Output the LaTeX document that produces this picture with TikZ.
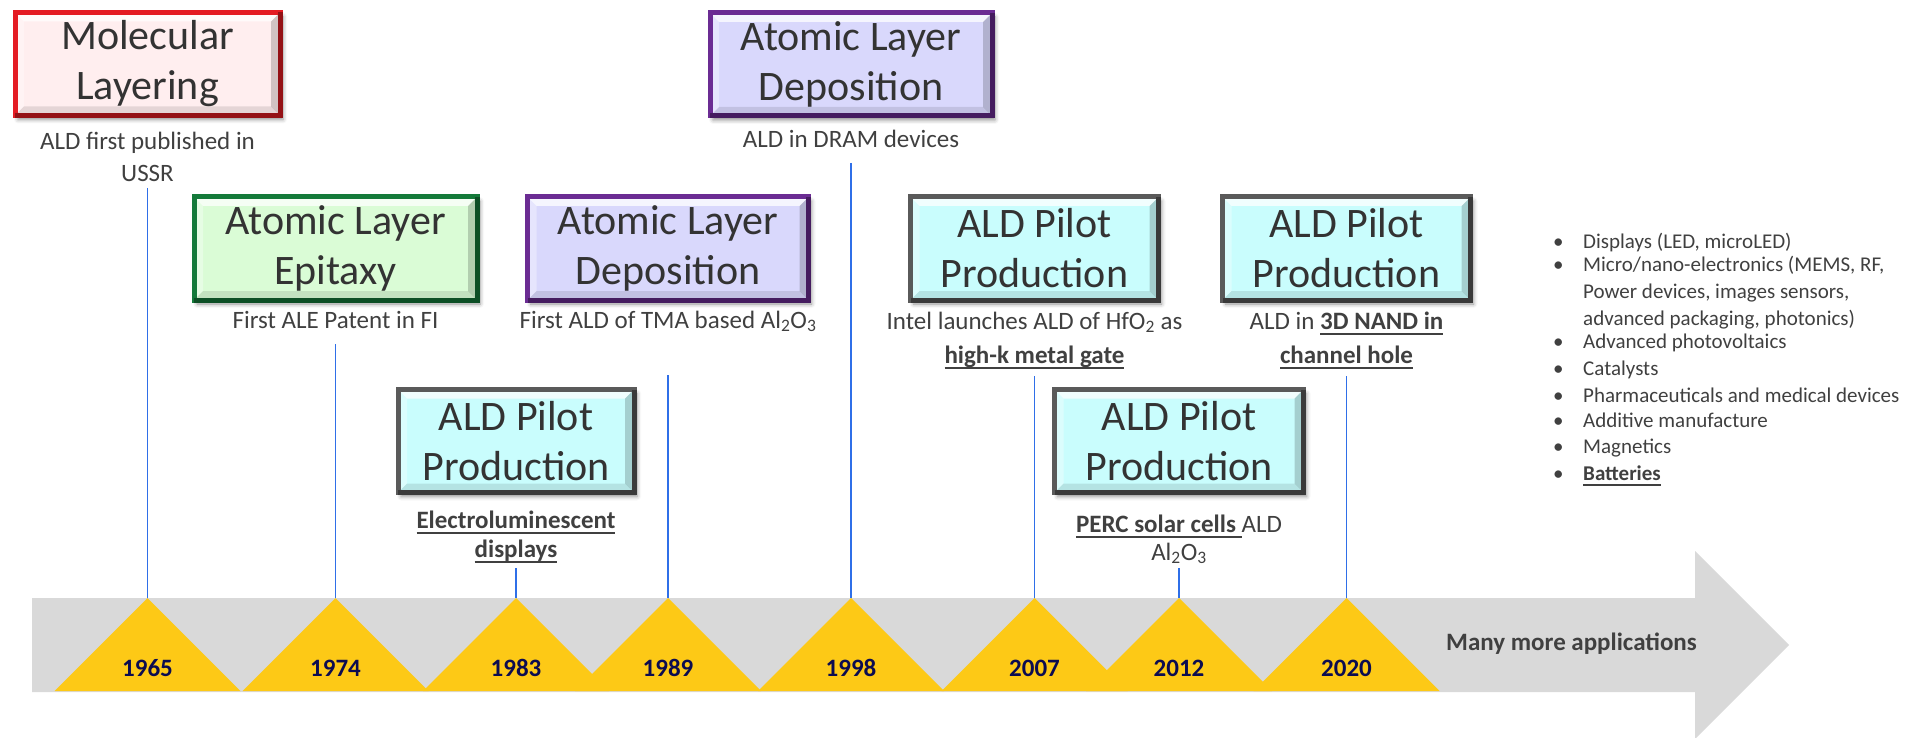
\documentclass[tikz,border=0pt]{standalone}
\usepackage{fontspec}
\setmainfont{Carlito}
\usetikzlibrary{shadows.blur,calc}
\definecolor{txt}{HTML}{404040}
\definecolor{ttl}{HTML}{333333}
\definecolor{yr}{HTML}{0C0C50}
\definecolor{band}{HTML}{D9D9D9}
\definecolor{tri}{HTML}{FDC916}
\definecolor{vline}{HTML}{2F6FE8}
\definecolor{redB}{HTML}{E41B23}
\definecolor{redF}{HTML}{FFEEEF}
\definecolor{grnB}{HTML}{147A3A}
\definecolor{grnF}{HTML}{DAFCD6}
\definecolor{purB}{HTML}{6B2C93}
\definecolor{purF}{HTML}{D9D8FC}
\definecolor{gryB}{HTML}{5A5A5A}
\definecolor{cyaF}{HTML}{C9FDFD}
\newcommand\myul[1]{\setbox0\hbox{#1}\rlap{\rule[-5.5pt]{\wd0}{2pt}}\box0}
\tikzset{
  evbox/.style 2 args={draw=#1, fill=#2, line width=5pt, inner sep=0pt, outer sep=0pt,
    minimum height=103pt, align=center, text=ttl,
    font=\fontsize{42}{50}\selectfont,
    blur shadow={shadow xshift=3pt, shadow yshift=-4pt, shadow blur radius=4pt, shadow opacity=45},
    path picture={
      \coordinate (pnw) at (path picture bounding box.north west);
      \coordinate (pne) at (path picture bounding box.north east);
      \coordinate (psw) at (path picture bounding box.south west);
      \coordinate (pse) at (path picture bounding box.south east);
      \fill[white,opacity=0.75] (pnw) -- (pne) -- ($(pne)+(-9pt,-9pt)$) -- ($(pnw)+(9pt,-9pt)$) -- cycle;
      \fill[white,opacity=0.35] (pnw) -- ($(pnw)+(9pt,-9pt)$) -- ($(psw)+(9pt,9pt)$) -- (psw) -- cycle;
      \fill[black,opacity=0.10] (psw) -- ($(psw)+(9pt,9pt)$) -- ($(pse)+(-9pt,9pt)$) -- (pse) -- cycle;
      \fill[black,opacity=0.18] (pne) -- (pse) -- ($(pse)+(-9pt,9pt)$) -- ($(pne)+(-9pt,-9pt)$) -- cycle;
    }},
  darkedge/.style={draw=black, draw opacity=0.35, line width=5pt, line join=miter},
  sublbl/.style={anchor=base, text=txt, font=\fontsize{25}{30}\selectfont, inner sep=0pt},
  yearlbl/.style={anchor=base, text=yr, font=\fontsize{25}{30}\selectfont\bfseries, inner sep=0pt},
  bul/.style={anchor=base west, text=txt, font=\fontsize{21}{26}\selectfont, inner sep=0pt},
  vtick/.style={draw=vline, line width=1.3pt},
}
\begin{document}
\begin{tikzpicture}[x=1pt,y=-1pt]
\useasboundingbox (0,0) rectangle (1925,738);
% timeline arrow
\fill[band] (32,598) -- (1695,598) -- (1695,551) -- (1789,645) -- (1695,739) -- (1695,692) -- (32,692) -- cycle;
% triangles
\foreach \x/\n in {147.5/65, 335.5/74, 516/83, 668/89, 851/98, 1034.5/07, 1179/12, 1346.5/20} {
  \fill[tri] (\x-93,691) -- (\x,598) -- (\x+93,691) -- cycle;
  \coordinate (ap\n) at (\x,598);
}
% tick tops
\coordinate (t65) at (147.5,188);
\coordinate (t74) at (335.5,344);
\coordinate (t83) at (516,568);
\coordinate (t89) at (668,375);
\coordinate (t98) at (851,163);
\coordinate (t07) at (1034.5,376);
\coordinate (t12) at (1179,568);
\coordinate (t20) at (1346.5,376);
\foreach \n in {65,74,83,89,98,07,12,20} { \draw[vtick] (t\n) -- (ap\n); }
% years
\node[yearlbl] (y65) at (147.5,676) {1965};
\node[yearlbl] (y74) at (335.5,676) {1974};
\node[yearlbl] (y83) at (516,676) {1983};
\node[yearlbl] (y89) at (668,676) {1989};
\node[yearlbl] (y98) at (851,676) {1998};
\node[yearlbl] (y07) at (1034.5,676) {2007};
\node[yearlbl] (y12) at (1179,676) {2012};
\node[yearlbl] (y20) at (1346.5,676) {2020};
\node[anchor=base west, text=txt, font=\fontsize{25}{30}\selectfont\bfseries, inner sep=0pt] (more) at (1446,650) {Many more applications};
% boxes
\node[evbox={redB}{redF}, minimum width=265pt] (mlBox) at (147.5,64) {Molecular\\Layering};
\node[evbox={grnB}{grnF}, minimum width=283pt] (aleBox) at (335.5,248.5) {Atomic Layer\\Epitaxy};
\node[evbox={purB}{purF}, minimum width=281pt] (ald89Box) at (668,248.5) {Atomic Layer\\Deposition};
\node[evbox={purB}{purF}, minimum width=282pt] (ald98Box) at (851,64.5) {Atomic Layer\\Deposition};
\node[evbox={gryB}{cyaF}, minimum width=236pt] (p83Box) at (516,441) {ALD Pilot\\Production};
\node[evbox={gryB}{cyaF}, minimum width=248pt] (p07Box) at (1034.5,248.5) {ALD Pilot\\Production};
\node[evbox={gryB}{cyaF}, minimum width=249pt] (p12Box) at (1179,441) {ALD Pilot\\Production};
\node[evbox={gryB}{cyaF}, minimum width=248pt] (p20Box) at (1346.5,248.5) {ALD Pilot\\Production};
\foreach \b in {mlBox,aleBox,ald89Box,ald98Box,p83Box,p07Box,p12Box,p20Box} {
  \draw[darkedge] (\b.north east) -- (\b.south east) -- (\b.south west);
}
% sub labels
\node[sublbl] (s65a) at (147.5,150) {ALD first published in};
\node[sublbl] (s65b) at (147.5,182) {USSR};
\node[sublbl] (s74) at (335.5,328) {First ALE Patent in FI};
\node[sublbl] (s83a) at (516,528) {\bfseries\myul{Electroluminescent}};
\node[sublbl] (s83b) at (516,557) {\bfseries\myul{displays}};
\node[sublbl] (s89) at (668,328) {First ALD of TMA based Al\textsubscript{2}O\textsubscript{3}};
\node[sublbl] (s98) at (851,148) {ALD in DRAM devices};
\node[sublbl] (s07a) at (1034.5,329) {Intel launches ALD of HfO\textsubscript{2} as};
\node[sublbl] (s07b) at (1034.5,363) {\bfseries\myul{high-k metal gate}};
\node[sublbl] (s12a) at (1179,532) {\myul{\bfseries PERC solar cells }ALD};
\node[sublbl] (s12b) at (1179,560) {Al\textsubscript{2}O\textsubscript{3}};
\node[sublbl] (s20a) at (1346.5,329) {ALD in \myul{\bfseries 3D NAND in}};
\node[sublbl] (s20b) at (1346.5,363) {\bfseries\myul{channel hole}};
% bullet list
\foreach \yy/\t [count=\i] in {248/{Displays (LED, microLED)}, 272/{Micro/nano-electronics (MEMS, RF,}, 348/{Advanced photovoltaics}, 375/{Catalysts}, 402/{Pharmaceuticals and medical devices}, 427/{Additive manufacture}, 453/{Magnetics}, 480/{\bfseries\myul{Batteries}}} {
  \node[bul] (bd\i) at (1553,\yy) {•};
  \node[bul] (bt\i) at (1583,\yy) {\t};
}
\node[bul] (bc1) at (1583,298) {Power devices, images sensors,};
\node[bul] (bc2) at (1583,325) {advanced packaging, photonics)};
\end{tikzpicture}
\end{document}
